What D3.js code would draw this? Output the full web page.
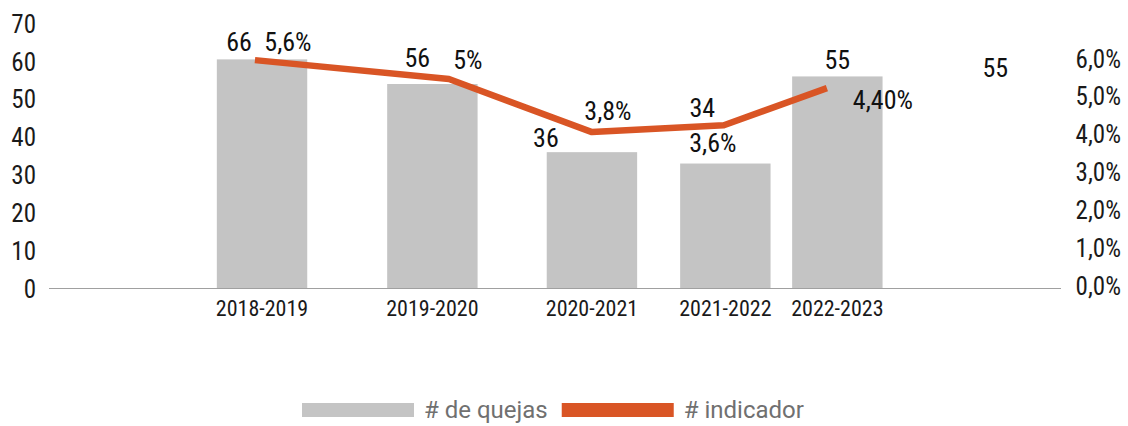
<!DOCTYPE html>
<html>
<head>
<meta charset="utf-8">
<script src="https://cdn.jsdelivr.net/npm/d3@7"></script>
<style>
  body { margin: 0; background: #fff; }
  text { font-family: "Roboto Condensed", Roboto, "Liberation Sans", sans-serif; }
  .legend text { font-family: Roboto, "Liberation Sans", sans-serif; }
</style>
</head>
<body>
<div class="chart"></div>
<script>
// data
var categories = ["2018-2019", "2019-2020", "2020-2021", "2021-2022", "2022-2023"];
var barSlots = [1.263, 2.273, 3.219, 4.01, 4.674];     // bar centres, slot units
var quejas = [60.5, 54, 36, 33, 56];                    // drawn bar heights
var quejasLabels = ["66", "56", "36", "34", "55"];
var lineSlots = [1.221, 2.371, 3.219, 4.001, 4.612];   // line points, slot units
var indicador = [0.0603, 0.0553, 0.0413, 0.0431, 0.0529];
var indicadorLabels = ["5,6%", "5%", "3,8%", "3,6%", "4,40%"];
var strayLabel = {slot: 5.61, value: 55, text: "55"};
var leftTicks = [0, 10, 20, 30, 40, 50, 60, 70];
var rightTicks = [0, 0.01, 0.02, 0.03, 0.04, 0.05, 0.06];

// label nudges (px) – the original labels sit loosely around their marks
var barLabelOffsets = [[-23, -17], [-15, -26], [-46, -14], [-23, -56], [0, -17]];
var lineLabelOffsets = [[33, -18], [19, -19], [16, -21], [-11, 18], [56, 12]];

var W = 1128, H = 426;
var plot = {left: 49, right: 1061, top: 23.4, bottom: 288.5};

var svg = d3.select(".chart").append("svg")
    .attr("width", W)
    .attr("height", H);

var x = d3.scaleLinear().domain([0, 6]).range([plot.left, plot.right]);
var y = d3.scaleLinear().domain([0, 70]).range([plot.bottom, plot.top]);
var y2 = d3.scaleLinear().domain([0, 0.07]).range([plot.bottom, plot.top]);
var barW = x(0.536) - x(0);

function ctext(g, px, py, s, size, anchor, fill) {
    return g.append("text")
        .attr("x", px).attr("y", py)
        .attr("text-anchor", anchor)
        .attr("dy", "0.35em")
        .style("font-size", size + "px")
        .attr("fill", fill)
        .text(s);
}

// bars
svg.append("g")
    .selectAll("rect")
    .data(quejas)
    .join("rect")
    .attr("x", (d, i) => x(barSlots[i]) - barW / 2)
    .attr("y", d => y(d))
    .attr("width", barW)
    .attr("height", d => y(0) - y(d))
    .attr("fill", "#c4c4c4");

// baseline
svg.append("line")
    .attr("x1", plot.left).attr("x2", plot.right)
    .attr("y1", y(0)).attr("y2", y(0))
    .attr("stroke", "#a0a0a0")
    .attr("stroke-width", 1);

// left axis
var yAxis = svg.append("g")
    .attr("transform", "translate(36,0)")
    .call(d3.axisLeft(y).tickValues(leftTicks).tickSize(0).tickPadding(0));
yAxis.select(".domain").remove();
yAxis.selectAll("text")
    .attr("dy", "0.35em")
    .style("font-size", "25px")
    .attr("fill", "#1a1a1a");

// right axis
var yAxis2 = svg.append("g")
    .attr("transform", "translate(1121,-3)")
    .call(d3.axisRight(y2).tickValues(rightTicks).tickSize(0).tickPadding(0)
        .tickFormat(d => d3.format(".1f")(d * 100).replace(".", ",") + "%"));
yAxis2.select(".domain").remove();
yAxis2.selectAll("text")
    .attr("text-anchor", "end")
    .attr("dy", "0.35em")
    .style("font-size", "25px")
    .attr("fill", "#1a1a1a");

// category labels
var catG = svg.append("g");
categories.forEach((c, i) => ctext(catG, x(barSlots[i]), 308, c, 22, "middle", "#1a1a1a"));

// indicator line
var line = d3.line()
    .x((d, i) => x(lineSlots[i]))
    .y(d => y2(d));
svg.append("path")
    .datum(indicador)
    .attr("d", line)
    .attr("fill", "none")
    .attr("stroke", "#d95525")
    .attr("stroke-width", 6.5)
    .attr("stroke-linejoin", "round");

// data labels
var lblG = svg.append("g");
quejasLabels.forEach((t, i) => ctext(lblG,
    x(barSlots[i]) + barLabelOffsets[i][0], y(quejas[i]) + barLabelOffsets[i][1],
    t, 26, "middle", "#111"));
indicadorLabels.forEach((t, i) => ctext(lblG,
    x(lineSlots[i]) + lineLabelOffsets[i][0], y2(indicador[i]) + lineLabelOffsets[i][1],
    t, 26, "middle", "#111"));
ctext(lblG, x(strayLabel.slot), y(strayLabel.value) - 12, strayLabel.text, 26, "middle", "#111");

// legend
var legendItems = [
    {name: "# de quejas", color: "#c4c4c4"},
    {name: "# indicador", color: "#d95525"}
];
var lg = svg.append("g").attr("class", "legend");
var lx = 302, ly = 410;
legendItems.forEach(item => {
    lg.append("rect")
        .attr("x", lx).attr("y", ly - 7)
        .attr("width", 112).attr("height", 14)
        .attr("fill", item.color);
    lx += 122;
    var t = ctext(lg, lx, ly, item.name, 24, "start", "#707070");
    lx += t.node().getComputedTextLength() + 14;
});
</script>
</body>
</html>
